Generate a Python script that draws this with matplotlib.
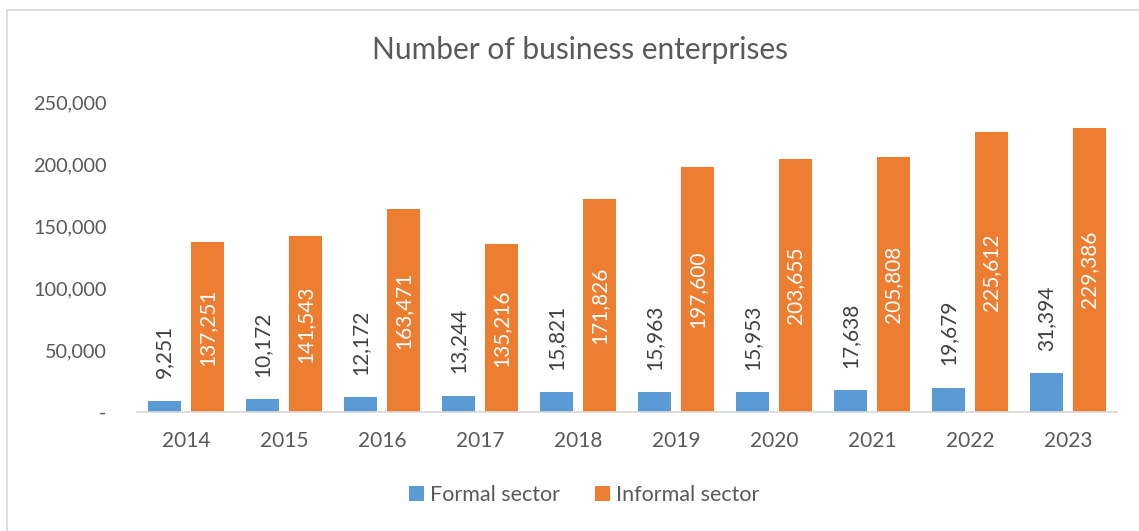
import matplotlib.pyplot as plt
import matplotlib.patches as mpatches
import numpy as np

plt.rcParams['font.family'] = ['Lato', 'DejaVu Sans']

# Data
years = ['2014', '2015', '2016', '2017', '2018', '2019', '2020', '2021', '2022', '2023']
formal = [9251, 10172, 12172, 13244, 15821, 15963, 15953, 17638, 19679, 31394]
informal = [137251, 141543, 163471, 135216, 171826, 197600, 203655, 205808, 225612, 229386]
y_ticks = [0, 50000, 100000, 150000, 200000, 250000]

blue = '#5B9BD5'
orange = '#ED7D31'
grey_text = '#595959'

W, H = 1139, 531
fig = plt.figure(figsize=(W / 100, H / 100), dpi=100)

# light chart border like Excel
fig.patches.append(mpatches.Rectangle((7 / W, -0.01), 1.2, 1 - 10 / H + 0.01,
                                      transform=fig.transFigure, fill=False,
                                      edgecolor='#d9d9d9', linewidth=1.2))

ax = fig.add_axes([137 / W, 1 - 412 / H, (1117 - 137) / W, (412 - 102) / H])

x = np.arange(len(years))
width = 0.34
off = 0.22
b1 = ax.bar(x - off, formal, width, color=blue, label='Formal sector')
b2 = ax.bar(x + off, informal, width, color=orange, label='Informal sector')

ax.set_xlim(-0.5, len(years) - 0.5)
ax.set_ylim(0, 250000)
ax.set_yticks(y_ticks)
ax.set_yticklabels(['-' if v == 0 else f'{v:,}' for v in y_ticks])
ax.set_xticks(x)
ax.set_xticklabels(years)
ax.tick_params(axis='both', length=0, labelsize=15, colors=grey_text)
ax.tick_params(axis='y', labelsize=14.3, pad=22)
ax.tick_params(axis='x', pad=14)

for side in ['top', 'right', 'left']:
    ax.spines[side].set_visible(False)
ax.spines['bottom'].set_color('#d9d9d9')
ax.spines['bottom'].set_linewidth(1.2)

# Value labels
for bar, v in zip(b1, formal):
    ax.annotate(f'{v:,}', xy=(bar.get_x() + bar.get_width() / 2, v),
                xytext=(0, 16), textcoords='offset points', rotation=90,
                ha='center', va='bottom', fontsize=15, color='#404040')
for bar, v in zip(b2, informal):
    ax.text(bar.get_x() + bar.get_width() / 2, v / 2, f'{v:,}', rotation=90,
            ha='center', va='center', fontsize=15, color='white')

fig.text(580 / W, 1 - 50 / H, 'Number of business enterprises', ha='center',
         va='center', fontsize=21.5, color=grey_text)

fig.legend(handles=[b1, b2], loc='center', bbox_to_anchor=(584 / W, 1 - 495 / H),
           ncol=2, frameon=False, fontsize=15.5, labelcolor=grey_text,
           handlelength=0.7, handleheight=0.7, handletextpad=0.3, columnspacing=1.6)

plt.savefig('out.png', dpi=100)
